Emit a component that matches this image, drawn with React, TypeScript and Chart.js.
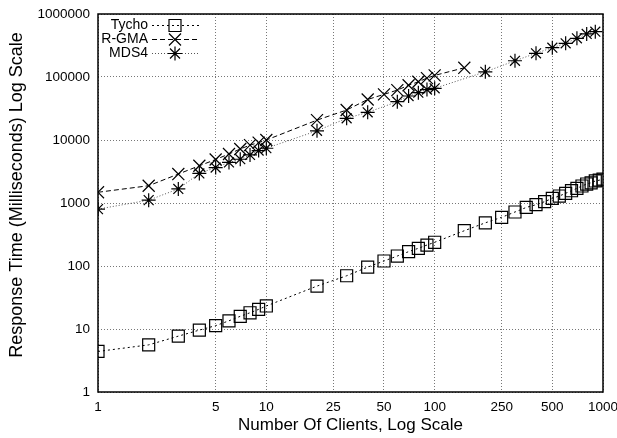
import React, { useEffect, useRef } from 'react';
import { Chart, registerables } from 'chart.js';

Chart.register(...registerables);

const FONT = '"Liberation Sans", Arial, Helvetica, sans-serif';

const xTitle = 'Number Of Clients, Log Scale';
const yTitle = 'Response Time (Milliseconds) Log Scale';

const xTicks = [1, 5, 10, 25, 50, 100, 250, 500, 1000];
const yTicks = [1, 10, 100, 1000, 10000, 100000, 1000000];

const tychoX = [1, 2, 3, 4, 5, 6, 7, 8, 9, 10, 20, 30, 40, 50, 60, 70, 80, 90, 100, 150, 200, 250, 300, 350, 400, 450, 500, 550, 600, 650, 700, 750, 800, 850, 900, 950, 1000];
const tychoY = [4.4, 5.6, 7.7, 9.6, 11.3, 13.5, 15.9, 18.1, 20.5, 23.2, 48, 70, 96, 120, 144, 169, 191, 215, 238, 363, 485, 593, 720, 850, 940, 1050, 1187, 1290, 1426, 1566, 1711, 1862, 2000, 2093, 2237, 2300, 2400];

const rgmaX = [1, 2, 3, 4, 5, 6, 7, 8, 9, 10, 20, 30, 40, 50, 60, 70, 80, 90, 100, 150];
const rgmaY = [1480, 1880, 2880, 3900, 4900, 6000, 7200, 8300, 9100, 10000, 20700, 29900, 44000, 53000, 62000, 74000, 84000, 96000, 106000, 140000];

const mds4X = [1, 2, 3, 4, 5, 6, 7, 8, 9, 10, 20, 30, 40, 60, 70, 80, 90, 100, 200, 300, 400, 500, 600, 700, 800, 900];
const mds4Y = [800, 1110, 1670, 2950, 3650, 4400, 4950, 5800, 6800, 7400, 14000, 22100, 27500, 40600, 49900, 56300, 63200, 66100, 121000, 181000, 238000, 292000, 343000, 411000, 482000, 524000];

const toPoints = (xs: number[], ys: number[]) => xs.map((x, i) => ({ x, y: ys[i] }));

function drawMarker(ctx: CanvasRenderingContext2D, style: string, cx: number, cy: number) {
  ctx.beginPath();
  if (style === 'rect') {
    ctx.rect(cx - 6, cy - 6, 12, 12);
  } else if (style === 'crossRot') {
    ctx.moveTo(cx - 6, cy - 6); ctx.lineTo(cx + 6, cy + 6);
    ctx.moveTo(cx - 6, cy + 6); ctx.lineTo(cx + 6, cy - 6);
  } else {
    ctx.moveTo(cx - 5, cy - 5); ctx.lineTo(cx + 5, cy + 5);
    ctx.moveTo(cx - 5, cy + 5); ctx.lineTo(cx + 5, cy - 5);
    ctx.moveTo(cx - 7, cy); ctx.lineTo(cx + 7, cy);
    ctx.moveTo(cx, cy - 7); ctx.lineTo(cx, cy + 7);
  }
  ctx.stroke();
}

const framePlugin = {
  id: 'frame',
  beforeDatasetsDraw(chart: any) {
    const { ctx, chartArea } = chart;
    const { left, top, right, bottom } = chartArea;
    ctx.save();
    ctx.strokeStyle = '#000';
    ctx.lineWidth = 1.5;
    ctx.setLineDash([]);
    ctx.strokeRect(left, top, right - left, bottom - top);
    ctx.restore();
  },
};

const yTitlePlugin = {
  id: 'yTitle',
  afterDraw(chart: any) {
    const { ctx, chartArea } = chart;
    ctx.save();
    ctx.translate(17, (chartArea.top + chartArea.bottom) / 2 - 8);
    ctx.rotate(-Math.PI / 2);
    ctx.font = `18px ${FONT}`;
    ctx.fillStyle = '#000';
    ctx.textAlign = 'center';
    ctx.textBaseline = 'middle';
    ctx.fillText(yTitle, 0, 0);
    ctx.restore();
  },
};

const legendPlugin = {
  id: 'gnuLegend',
  afterDraw(chart: any) {
    const { ctx } = chart;
    const textRight = 148;
    const lineStart = 152;
    const lineEnd = 200;
    const markerX = 175;
    const rowY0 = 25.5;
    const rowStep = 14;
    ctx.save();
    chart.data.datasets.forEach((ds: any, i: number) => {
      const y = rowY0 + i * rowStep;
      ctx.font = `14px ${FONT}`;
      ctx.fillStyle = '#000';
      ctx.textAlign = 'right';
      ctx.textBaseline = 'middle';
      ctx.fillText(ds.label, textRight, y);
      ctx.strokeStyle = ds.borderColor;
      ctx.lineWidth = ds.borderWidth;
      ctx.setLineDash(ds.borderDash || []);
      ctx.beginPath();
      ctx.moveTo(lineStart, y);
      ctx.lineTo(lineEnd, y);
      ctx.stroke();
      ctx.setLineDash([]);
      ctx.strokeStyle = ds.pointBorderColor;
      ctx.lineWidth = ds.pointBorderWidth;
      drawMarker(ctx, ds.pointStyle, markerX, y);
    });
    ctx.restore();
  },
};

export default function App() {
  const ref = useRef<HTMLCanvasElement | null>(null);

  useEffect(() => {
    if (!ref.current) return;
    Chart.defaults.font.family = FONT;
    const chart = new Chart(ref.current, {
      type: 'line',
      data: {
        datasets: [
          {
            label: 'Tycho',
            data: toPoints(tychoX, tychoY),
            borderColor: '#000',
            borderWidth: 1,
            borderDash: [2, 3],
            pointStyle: 'rect',
            pointRadius: 8.5,
            pointBorderColor: '#000',
            pointBackgroundColor: 'rgba(0,0,0,0)',
            pointBorderWidth: 1.2,
            fill: false,
            tension: 0,
          },
          {
            label: 'R-GMA',
            data: toPoints(rgmaX, rgmaY),
            borderColor: '#000',
            borderWidth: 1,
            borderDash: [5, 3],
            pointStyle: 'crossRot',
            pointRadius: 8.5,
            pointBorderColor: '#000',
            pointBackgroundColor: 'rgba(0,0,0,0)',
            pointBorderWidth: 1.2,
            fill: false,
            tension: 0,
          },
          {
            label: 'MDS4',
            data: toPoints(mds4X, mds4Y),
            borderColor: '#555',
            borderWidth: 1,
            borderDash: [1, 2],
            pointStyle: 'star',
            pointRadius: 7,
            pointBorderColor: '#000',
            pointBackgroundColor: 'rgba(0,0,0,0)',
            pointBorderWidth: 1.2,
            fill: false,
            tension: 0,
          },
        ],
      } as any,
      options: {
        responsive: false,
        animation: false,
        events: [],
        layout: { padding: { top: 14, right: 14, left: 0, bottom: 0 } },
        plugins: {
          legend: { display: false },
          tooltip: { enabled: false },
        },
        scales: {
          x: {
            type: 'logarithmic',
            min: 1,
            max: 1000,
            afterBuildTicks: (s: any) => {
              s.ticks = xTicks.map((v) => ({ value: v }));
            },
            afterFit: (s: any) => {
              s.height = 46;
              s.paddingLeft = 0;
              s.paddingRight = 0;
            },
            ticks: {
              callback: (v: any) => String(v),
              font: { size: 13.5, family: FONT },
              color: '#000',
              padding: 7,
              maxRotation: 0,
              autoSkip: false,
            },
            grid: { color: '#777', drawTicks: false, lineWidth: 1 },
            border: { display: false, dash: [1, 2] },
            title: {
              display: true,
              text: xTitle,
              font: { size: 17, family: FONT },
              color: '#000',
              padding: { top: 0, bottom: 2 },
            },
          },
          y: {
            type: 'logarithmic',
            min: 1,
            max: 1000000,
            afterBuildTicks: (s: any) => {
              s.ticks = yTicks.map((v) => ({ value: v }));
            },
            afterFit: (s: any) => {
              s.width = 98;
              s.paddingTop = 0;
              s.paddingBottom = 0;
            },
            ticks: {
              callback: (v: any) => String(v),
              font: { size: 13.5, family: FONT },
              color: '#000',
              padding: 8,
              autoSkip: false,
            },
            grid: { color: '#777', drawTicks: false, lineWidth: 1 },
            border: { display: false, dash: [1, 2] },
            title: { display: false },
          },
        },
      } as any,
      plugins: [framePlugin, yTitlePlugin, legendPlugin],
    });
    return () => chart.destroy();
  }, []);

  return (
    <div style={{ position: 'fixed', left: 0, top: 0, width: 617, height: 438, background: '#fff' }}>
      <canvas ref={ref} width={617} height={438} style={{ width: 617, height: 438, display: 'block' }} />
    </div>
  );
}
